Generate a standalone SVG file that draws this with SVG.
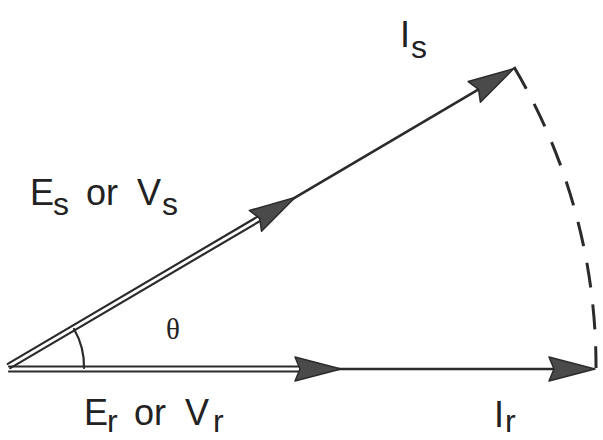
<svg xmlns="http://www.w3.org/2000/svg" width="603" height="440" viewBox="0 0 603 440">
<defs>
<style>
.ln{stroke:#2b2b2b;stroke-width:2.2;fill:none;stroke-linecap:round}
.sl{stroke:#2b2b2b;stroke-width:2.6;fill:none}
.ah{fill:#4a4a4a;stroke:#2b2b2b;stroke-width:1.5;stroke-linejoin:round}
.lbl{font-family:"Liberation Sans",Arial,sans-serif;font-size:36px;fill:#222}
.sub{font-family:"Liberation Sans",Arial,sans-serif;font-size:32px;fill:#222}
.th{font-family:"Liberation Serif","Times New Roman",serif;font-size:29px;fill:#222}
.dash{stroke:#2b2b2b;stroke-width:3;fill:none;stroke-dasharray:25 17}
</style>
<polygon id="arrow" points="0,0 -46,-12 -41,0 -46,12"/>
</defs>
<rect width="603" height="440" fill="#fff"/>
<g id="connectors">
<g id="vec-Es" transform="translate(9,366) rotate(-30.5)">
<line class="ln" x1="0" y1="-2.5" x2="292" y2="-2.5"/>
<line class="ln" x1="0" y1="2.5" x2="292" y2="2.5"/>
<line class="sl" x1="290" y1="0" x2="545" y2="0"/>
<use href="#arrow" class="ah" transform="translate(332,0)"/>
<use href="#arrow" class="ah" transform="translate(586,0)"/>
</g>
<g id="vec-Er" transform="translate(9,369)">
<line class="ln" x1="0" y1="-2.5" x2="292" y2="-2.5"/>
<line class="ln" x1="0" y1="2.5" x2="292" y2="2.5"/>
<line class="sl" x1="290" y1="0" x2="550" y2="0"/>
<use href="#arrow" class="ah" transform="translate(332,0)"/>
<use href="#arrow" class="ah" transform="translate(586,0)"/>
</g>
<path id="theta-arc" class="ln" d="M84,368 A75,75 0 0 0 74,329"/>
<path id="locus" class="dash" d="M514,67 A586,586 0 0 1 596,368"/>
</g>
<g id="label-Is">
<text class="lbl" x="400" y="47">I</text>
<text class="sub" x="411" y="58">s</text>
</g>
<g id="label-Es">
<text class="lbl" x="30" y="205">E</text>
<text class="sub" x="53" y="215">s</text>
<text class="lbl" x="86" y="205">or</text>
<text class="lbl" x="137" y="205">V</text>
<text class="sub" x="162" y="215">s</text>
</g>
<g id="label-theta">
<text class="th" x="173" y="339" text-anchor="middle">θ</text>
</g>
<g id="label-Er">
<text class="lbl" x="84" y="425">E</text>
<text class="sub" x="107" y="432">r</text>
<text class="lbl" x="134" y="425">or</text>
<text class="lbl" x="185" y="425">V</text>
<text class="sub" x="213" y="432">r</text>
</g>
<g id="label-Ir">
<text class="lbl" x="494" y="427">I</text>
<text class="sub" x="505" y="432">r</text>
</g>
</svg>
